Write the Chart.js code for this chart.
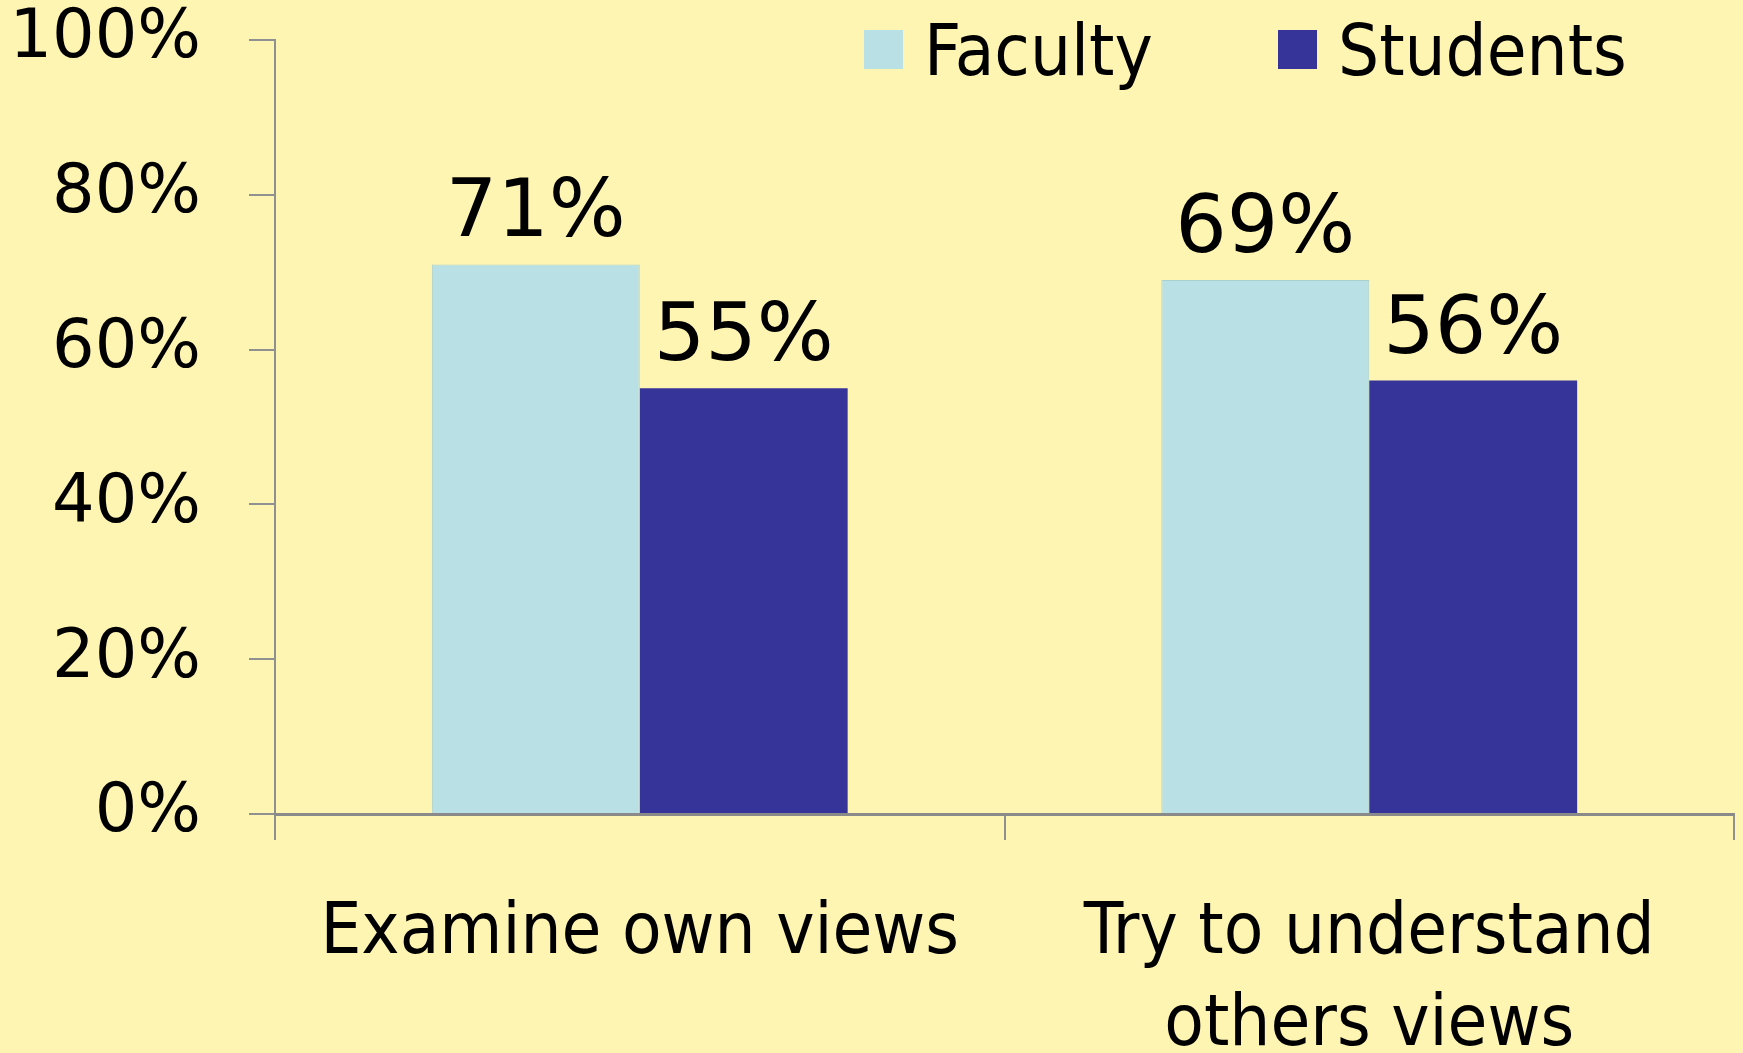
<!DOCTYPE html>
<html>
<head>
<meta charset="utf-8">
<script src="https://cdn.jsdelivr.net/npm/chart.js@4"></script>
<style>
  html, body { margin: 0; padding: 0; background: #FFF5B2; }
  #wrap { width: 1743px; height: 1053px; position: relative; }
</style>
</head>
<body>
<div id="wrap"><canvas id="chart" width="1743" height="1053"></canvas></div>
<script>
// Chart data
const categories = ['Examine own views', ['Try to understand', 'others views']];
const faculty = [71, 69];
const students = [55, 56];
const yTicks = [0, 20, 40, 60, 80, 100];

const FONT = "'DejaVu Sans Condensed', 'DejaVu Sans', sans-serif";
const FONT_WIDE = "'DejaVu Sans', sans-serif";
const AXIS_GRAY = '#909090';

// Value labels above each bar
const valueLabels = {
    id: 'valueLabels',
    afterDatasetsDraw(chart) {
        const ctx = chart.ctx;
        ctx.save();
        ctx.fillStyle = '#000';
        ctx.font = '81px ' + FONT_WIDE;
        ctx.textAlign = 'center';
        ctx.textBaseline = 'alphabetic';
        chart.data.datasets.forEach((ds, i) => {
            chart.getDatasetMeta(i).data.forEach((bar, j) => {
                ctx.fillText(ds.data[j] + '%', bar.x, bar.y - 28);
            });
        });
        ctx.restore();
    }
};

// Legend drawn in the top-right corner
const topLegend = {
    id: 'topLegend',
    afterDraw(chart) {
        const ctx = chart.ctx;
        const items = [
            { x: 864, text: 'Faculty', ds: 0 },
            { x: 1278, text: 'Students', ds: 1 }
        ];
        ctx.save();
        ctx.font = '72px ' + FONT;
        ctx.textBaseline = 'alphabetic';
        items.forEach(it => {
            const ds = chart.data.datasets[it.ds];
            ctx.fillStyle = ds.backgroundColor;
            ctx.fillRect(it.x, 30, 39, 39);
            ctx.fillStyle = '#000';
            ctx.fillText(it.text, it.x + 60, 75);
        });
        ctx.restore();
    }
};

const ctx = document.getElementById('chart').getContext('2d');
new Chart(ctx, {
    type: 'bar',
    data: {
        labels: categories,
        datasets: [
            {
                label: 'Faculty',
                data: faculty,
                backgroundColor: '#B9E0E5',
                borderColor: '#A9CFCF',
                borderWidth: 1,
                categoryPercentage: 0.57,
                barPercentage: 1.0
            },
            {
                label: 'Students',
                data: students,
                backgroundColor: '#363399',
                borderWidth: 0,
                categoryPercentage: 0.57,
                barPercentage: 1.0
            }
        ]
    },
    options: {
        responsive: false,
        animation: false,
        layout: { padding: { top: 40, right: 9, left: 0, bottom: 0 } },
        plugins: {
            legend: { display: false },
            tooltip: { enabled: false }
        },
        scales: {
            y: {
                min: 0,
                max: 100,
                afterFit(scale) {
                    scale.width = 275;
                    scale.paddingTop = 0;
                    scale.paddingBottom = 0;
                },
                afterBuildTicks(scale) {
                    scale.ticks = yTicks.map(v => ({ value: v }));
                },
                ticks: {
                    color: '#000',
                    font: { family: FONT_WIDE, size: 67 },
                    padding: 48,
                    callback: v => v + '%'
                },
                grid: {
                    drawOnChartArea: false,
                    drawTicks: true,
                    tickLength: 26,
                    color: AXIS_GRAY,
                    lineWidth: 2
                },
                border: { display: true, color: AXIS_GRAY, width: 2 }
            },
            x: {
                afterFit(scale) {
                    scale.height = 239;
                    scale.paddingLeft = 0;
                    scale.paddingRight = 0;
                },
                ticks: {
                    color: '#000',
                    font: { family: FONT, size: 72, lineHeight: 1.28 },
                    padding: 48,
                    maxRotation: 0,
                    autoSkip: false
                },
                grid: {
                    drawOnChartArea: false,
                    drawTicks: true,
                    tickLength: 26,
                    color: AXIS_GRAY,
                    lineWidth: 2
                },
                border: { display: true, color: '#8A8A8A', width: 3 }
            }
        }
    },
    plugins: [valueLabels, topLegend]
});
</script>
</body>
</html>
